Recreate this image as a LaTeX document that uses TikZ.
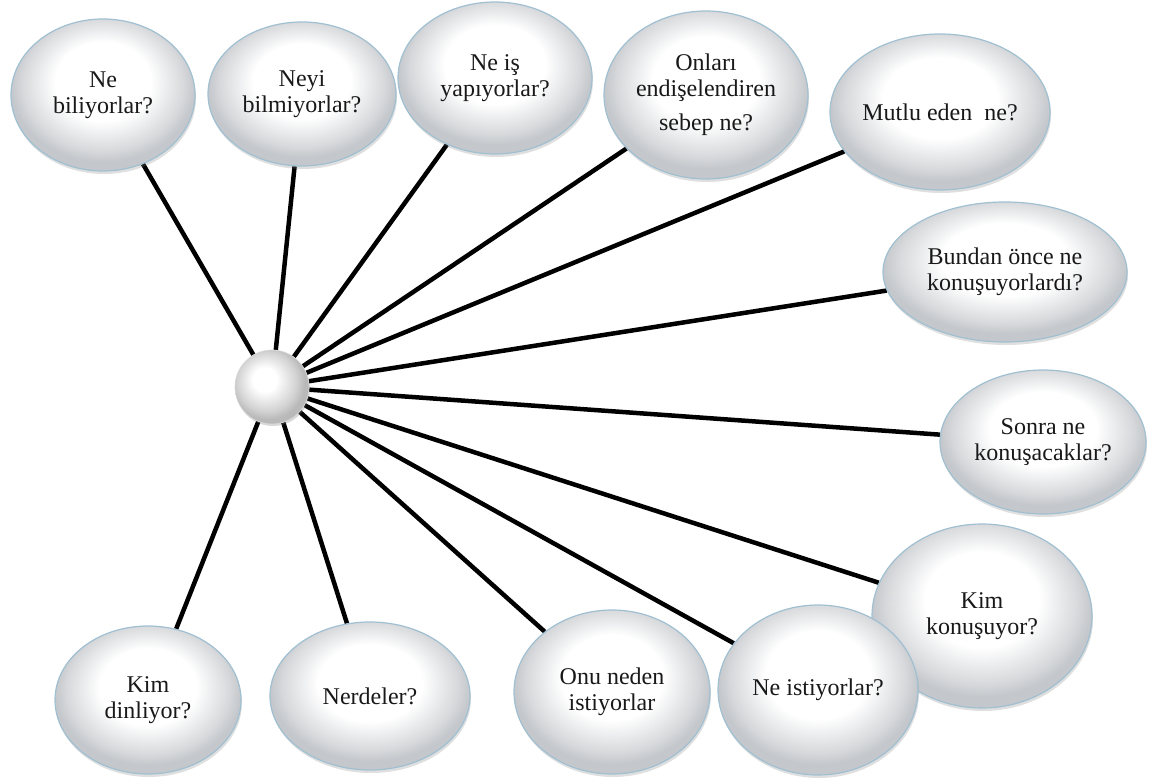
\documentclass[tikz,border=0pt]{standalone}
\usepackage{fontspec}
\setmainfont{Liberation Serif}
\usetikzlibrary{shapes.geometric,shadows,backgrounds}
\definecolor{rim}{RGB}{160,192,210}
\definecolor{shadeout}{RGB}{196,199,203}
\definecolor{txt}{RGB}{25,25,25}
\pgfdeclareradialshading{bubshade}{\pgfpoint{0bp}{6bp}}{color(0bp)=(white); color(13bp)=(white); color(22bp)=(shadeout!70); color(25bp)=(shadeout); color(50bp)=(shadeout)}
\pgfdeclareradialshading{hubshade}{\pgfpoint{-6bp}{6bp}}{color(0bp)=(white); color(8bp)=(white); color(20bp)=(gray!35); color(25bp)=(gray!55); color(50bp)=(gray!55)}
\begin{document}
\begin{tikzpicture}[x=1pt,y=-1pt,
  bub/.style 2 args={ellipse, minimum width=#1pt, minimum height=#2pt, inner sep=0pt,
    draw=rim, line width=1.2pt, shading=bubshade,
    drop shadow={opacity=0.25, shadow xshift=1pt, shadow yshift=-3pt},
    align=center, font=\fontsize{24}{26}\selectfont, text=txt},
  conn/.style={line width=4.5pt, black}]
\useasboundingbox (0,0) rectangle (1157,778);
\node[circle, minimum size=74pt, inner sep=0pt, shading=hubshade,
  draw=gray!30, line width=0.6pt, drop shadow={opacity=0.3, shadow xshift=1pt, shadow yshift=-2pt}] (hub) at (272,387) {};
\node[bub={184}{152}] (n1) at (103,95) {Ne\\biliyorlar?};
\node[bub={188}{144}] (n2) at (302,94) {Neyi\\bilmiyorlar?};
\node[bub={194}{152}] (n3) at (495,78) {Ne iş\\yapıyorlar?};
\node[bub={204}{168}] (n4) at (706,95) {Onları\\endişelendiren\\[8pt]sebep ne?};
\node[bub={220}{156}] (n5) at (940,112) {Mutlu eden\ \ ne?};
\node[bub={244}{140}] (n6) at (1005,272) {Bundan önce\ ne\\konuşuyorlardı?};
\node[bub={206}{144}] (n7) at (1043,442) {Sonra ne\\konuşacaklar?};
\node[bub={220}{184}] (n8) at (982,616) {Kim\\konuşuyor?};
\node[bub={200}{170}] (n9) at (818,690) {Ne istiyorlar?};
\node[bub={196}{164}] (n10) at (612,692) {Onu neden\\istiyorlar};
\node[bub={200}{148}] (n11) at (370,696) {Nerdeler?};
\node[bub={186}{148}] (n12) at (148,700) {Kim\\dinliyor?};
\begin{scope}[on background layer]
\foreach \n in {n1,n2,n3,n4,n5,n6,n7,n8,n9,n10,n11,n12}
  \draw[conn] (hub) -- (\n);
\end{scope}
\end{tikzpicture}
\end{document}
